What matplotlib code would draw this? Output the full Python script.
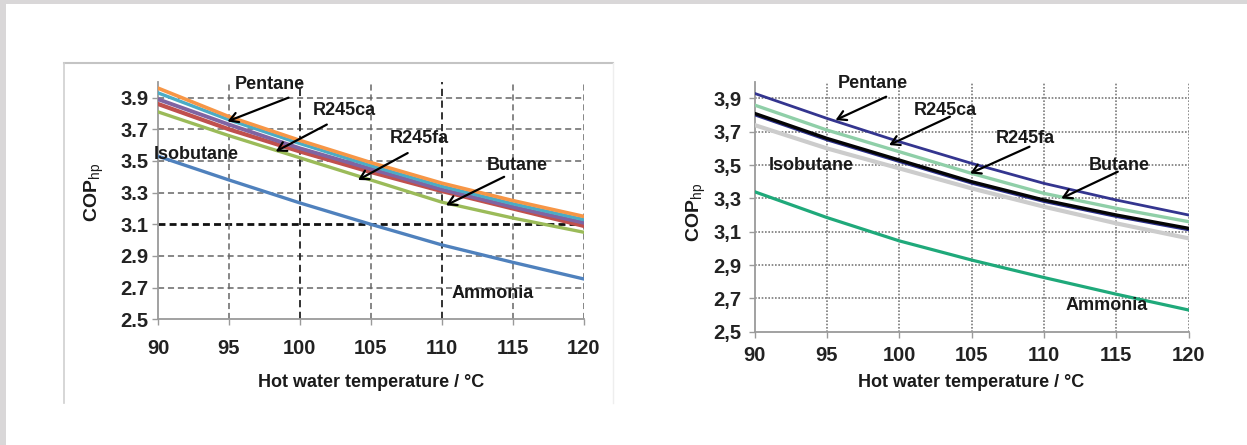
import matplotlib
matplotlib.use("Agg")
import matplotlib.pyplot as plt
from matplotlib.lines import Line2D
from matplotlib.patches import Rectangle

plt.rcParams['font.family'] = ['Liberation Sans', 'DejaVu Sans']
plt.rcParams['mathtext.fontset'] = 'custom'
plt.rcParams['mathtext.rm'] = 'Liberation Sans'

# hot water temperature (x axis), same for both charts
temps = [90, 95, 100, 105, 110, 115, 120]
x_ticks = [90, 95, 100, 105, 110, 115, 120]
y_ticks = [2.5, 2.7, 2.9, 3.1, 3.3, 3.5, 3.7, 3.9]
left_ytick_labels = ['2.5', '2.7', '2.9', '3.1', '3.3', '3.5', '3.7', '3.9']
right_ytick_labels = ['2,5', '2,7', '2,9', '3,1', '3,3', '3,5', '3,7', '3,9']

# left chart COP values
left_pentane = [3.96, 3.78, 3.63, 3.49, 3.36, 3.25, 3.15]
left_r245ca = [3.93, 3.76, 3.61, 3.47, 3.34, 3.23, 3.13]
left_r245fa = [3.89, 3.73, 3.58, 3.45, 3.32, 3.21, 3.11]
left_isobutane = [3.86, 3.70, 3.56, 3.43, 3.31, 3.20, 3.09]
left_butane = [3.81, 3.66, 3.52, 3.38, 3.24, 3.14, 3.05]
left_ammonia = [3.53, 3.38, 3.235, 3.10, 2.97, 2.86, 2.755]

# right chart COP values
right_pentane = [3.93, 3.78, 3.64, 3.51, 3.39, 3.29, 3.20]
right_r245ca = [3.86, 3.71, 3.58, 3.45, 3.33, 3.24, 3.16]
right_r245fa = [3.81, 3.66, 3.53, 3.40, 3.29, 3.20, 3.12]
right_butane = [3.80, 3.65, 3.52, 3.39, 3.28, 3.19, 3.11]
right_isobutane = [3.74, 3.60, 3.48, 3.36, 3.25, 3.15, 3.06]
right_ammonia = [3.34, 3.185, 3.045, 2.93, 2.825, 2.725, 2.63]

FS = 13
TICK_FS = 14.5

fig = plt.figure(figsize=(12.47, 4.45), dpi=100)
fig.patch.set_facecolor('white')

# page border (gray strip top and left)
fig.patches.append(Rectangle((0, 1 - 4 / 445), 1, 4 / 445, transform=fig.transFigure,
                             facecolor='#d9d7d8', edgecolor='none'))
fig.patches.append(Rectangle((0, 0), 6 / 1247, 1, transform=fig.transFigure,
                             facecolor='#d9d7d8', edgecolor='none'))

# thin frame around the left picture
fx0, fx1 = 64 / 1247, 613 / 1247
fy0, fy1 = 1 - 403 / 445, 1 - 63 / 445
fig.add_artist(Line2D([fx0, fx1], [fy1, fy1], transform=fig.transFigure, color='#c4c4c4', lw=1.5))
fig.add_artist(Line2D([fx0, fx0], [fy0, fy1], transform=fig.transFigure, color='#cfcfcf', lw=1.2))
fig.add_artist(Line2D([fx1, fx1], [fy0, fy1], transform=fig.transFigure, color='#eeeeee', lw=1.0))

ax1 = fig.add_axes([158 / 1247, 1 - 319.3 / 445, 425.6 / 1247, 237.5 / 445])
ax2 = fig.add_axes([754.5 / 1247, 1 - 331.7 / 445, 434.2 / 1247, 250 / 445])


def style_axes(ax, ylabels, xpad, ypad):
    ax.set_xlim(90, 120)
    ax.set_ylim(2.5, 4.0)
    ax.set_xticks(x_ticks)
    ax.set_yticks(y_ticks)
    ax.set_yticklabels(ylabels)
    for s in ['top', 'right']:
        ax.spines[s].set_visible(False)
    for s in ['left', 'bottom']:
        ax.spines[s].set_color('#9a9a9a')
        ax.spines[s].set_linewidth(1.3)
    ax.tick_params(axis='both', direction='out', length=4, width=1, color='#9a9a9a',
                   labelsize=TICK_FS)
    ax.tick_params(axis='x', pad=xpad)
    ax.tick_params(axis='y', pad=ypad)
    for lab in ax.get_xticklabels() + ax.get_yticklabels():
        lab.set_fontweight('bold')
        lab.set_color('#222222')


style_axes(ax1, left_ytick_labels, 10, 3)
style_axes(ax2, right_ytick_labels, 6, 5.5)

# left grid: dashed, a few darker lines
for y in y_ticks[1:]:
    if y == 3.1:
        ax1.axhline(y, color='#111111', lw=2.0, ls=(0, (2.5, 1.5)), zorder=1)
    else:
        ax1.axhline(y, color='#666666', lw=1.1, ls=(0, (4, 2.5)), zorder=1)
for x in x_ticks[1:]:
    if x in (100, 110):
        ax1.axvline(x, color='#222222', lw=1.3, ls=(0, (4, 2.5)), zorder=1)
    else:
        ax1.axvline(x, color='#666666', lw=1.1, ls=(0, (4, 2.5)), zorder=1)

# right grid: fine dotted
for y in y_ticks[1:]:
    ax2.axhline(y, color='#7a7a7a', lw=1.2, ls=(0, (1, 1)), zorder=1)
for x in x_ticks[1:]:
    ax2.axvline(x, color='#7a7a7a', lw=1.2, ls=(0, (1, 1)), zorder=1)

# left curves (Excel 2010 palette)
ax1.plot(temps, left_ammonia, color='#4f81bd', lw=2.4, zorder=3)
ax1.plot(temps, left_butane, color='#9bbb59', lw=2.4, zorder=3)
ax1.plot(temps, left_isobutane, color='#c0504d', lw=3.0, zorder=3)
ax1.plot(temps, left_r245fa, color='#8064a2', lw=2.8, zorder=3)
ax1.plot(temps, left_r245ca, color='#4bacc6', lw=2.4, zorder=3)
ax1.plot(temps, left_pentane, color='#f79646', lw=2.6, zorder=3)

# right curves
ax2.plot(temps, right_ammonia, color='#1fa97a', lw=2.3, zorder=3)
ax2.plot(temps, right_isobutane, color='#cccccc', lw=3.0, zorder=3)
ax2.plot(temps, right_butane, color='#2b2f8a', lw=1.8, zorder=3)
ax2.plot(temps, right_r245fa, color='#050505', lw=2.4, zorder=4)
ax2.plot(temps, right_r245ca, color='#8fcfa8', lw=2.4, zorder=3)
ax2.plot(temps, right_pentane, color='#34358f', lw=2.0, zorder=3)

# labels and arrows: (text, text x, text y, arrow start, arrow end)
left_notes = [
    ('Pentane', 97.9, 3.98, (99.2, 3.90), (94.9, 3.75)),
    ('R245ca', 103.1, 3.82, (101.9, 3.73), (98.3, 3.56)),
    ('R245fa', 108.4, 3.64, (107.6, 3.55), (104.1, 3.38)),
    ('Butane', 115.3, 3.47, (114.4, 3.40), (110.3, 3.22)),
    ('Isobutane', 92.7, 3.54, None, None),
    ('Ammonia', 113.6, 2.665, None, None),
]
right_notes = [
    ('Pentane', 98.2, 3.99, (99.1, 3.91), (95.6, 3.77)),
    ('R245ca', 103.2, 3.83, (103.5, 3.79), (99.3, 3.62)),
    ('R245fa', 108.7, 3.66, (109.0, 3.61), (104.9, 3.45)),
    ('Butane', 115.2, 3.50, (115.1, 3.46), (111.2, 3.30)),
    ('Isobutane', 93.9, 3.50, None, None),
    ('Ammonia', 114.35, 2.66, None, None),
]

for ax, notes in [(ax1, left_notes), (ax2, right_notes)]:
    for txt, tx, ty, a0, a1 in notes:
        ax.text(tx, ty, txt, ha='center', va='center', fontsize=FS, fontweight='bold',
                color='#1a1a1a', zorder=6, clip_on=False)
        if a0 is not None:
            ax.annotate('', xy=a1, xytext=a0, zorder=6,
                        arrowprops=dict(arrowstyle='->,head_length=0.6,head_width=0.35',
                                        color='black', lw=1.6, shrinkA=0, shrinkB=0))

ylab = r'COP$_{\rm hp}$'
ax1.set_ylabel(ylab, fontsize=FS + 1, fontweight='bold', color='#1a1a1a')
ax1.yaxis.set_label_coords(-0.122, 0.532)
ax2.set_ylabel(ylab, fontsize=FS + 1, fontweight='bold', color='#1a1a1a')
ax2.yaxis.set_label_coords(-0.107, 0.475)

ax1.set_xlabel('Hot water temperature / °C', fontsize=FS, fontweight='bold', color='#1a1a1a')
ax1.xaxis.set_label_coords(0.5, -0.231)
ax2.set_xlabel('Hot water temperature / °C', fontsize=FS, fontweight='bold', color='#1a1a1a')
ax2.xaxis.set_label_coords(0.5, -0.169)

fig.savefig('out.png', dpi=100, facecolor='white')
